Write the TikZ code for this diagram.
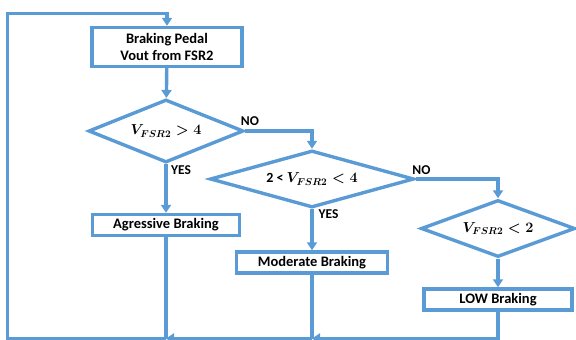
\documentclass[tikz,border=0pt]{standalone}
\usepackage{fontspec}
\setmainfont{Carlito}
\usetikzlibrary{shapes.geometric,arrows.meta}
\definecolor{flowblue}{RGB}{91,155,213}

\begin{document}
\begin{tikzpicture}[x=1pt,y=-1pt,
  box node/.style={rectangle,draw=flowblue,line width=3.4pt,inner sep=0pt,align=center,
    font=\bfseries\fontsize{14.5}{17}\selectfont},
  test node/.style={diamond,draw=flowblue,line width=3.4pt,inner sep=0pt,aspect=3,
    font=\bfseries\boldmath\fontsize{14}{16}\selectfont},
  tag/.style={inner sep=0pt,font=\bfseries\fontsize{13.5}{15}\selectfont},
  link/.style={draw=flowblue,line width=3.4pt},
  flow/.style={link,-{Triangle[width=10pt,length=8pt]}}]%
  \useasboundingbox (0,0) rectangle (576,340);
  % blocks
  \node[box node,minimum width=150pt,minimum height=39pt] (pedal) at (167,47) {Braking Pedal\\Vout from FSR2};
  \node[test node,minimum width=155pt,minimum height=63pt] (high) at (166,131) {$V_{FSR2} > 4$};
  \node[test node,minimum width=204pt,minimum height=57pt] (mid) at (312,179) {2 < $V_{FSR2} < 4$};
  \node[test node,minimum width=154pt,minimum height=57pt] (lowtest) at (498,228.5) {$V_{FSR2} < 2$};
  \node[box node,minimum width=147pt,minimum height=21pt] (agr) at (166,225) {Agressive Braking};
  \node[box node,minimum width=151pt,minimum height=21pt] (mod) at (312,262.5) {Moderate Braking};
  \node[box node,minimum width=148pt,minimum height=21pt] (low) at (498,299.5) {LOW Braking};
  % yes / no
  \node[tag] (no1) at (250,121.5) {NO};
  \node[tag] (yes1) at (181,170) {YES};
  \node[tag] (no2) at (421.5,170) {NO};
  \node[tag] (yes2) at (328.5,214) {YES};
  % connectors
  \draw[flow] (pedal) -- (high);
  \draw[flow] (high.south) -- (agr.north);
  \draw[flow] (high.east) -| (mid.north);
  \draw[flow] (mid.south) -- (mod.north);
  \draw[flow] (mid.east) -| (lowtest.north);
  \draw[flow] (lowtest.south) -- (low.north);
  % back to the pedal
  \coordinate (mergeB) at (312,338.5);
  \coordinate (mergeA) at (166,338.5);
  \coordinate (corner) at (7.5,338.5);
  \coordinate (top) at (7.5,13.5);
  \draw[link] (agr.south) -- (mergeA);
  \draw[link] (mod.south) -- (mergeB);
  \draw[flow] (low.south) |- (mergeB);
  \draw[flow] (mergeB) -- (mergeA);
  \draw[flow] (mergeA) -- (corner) -- (top) -| (pedal.north);
\end{tikzpicture}
\end{document}
